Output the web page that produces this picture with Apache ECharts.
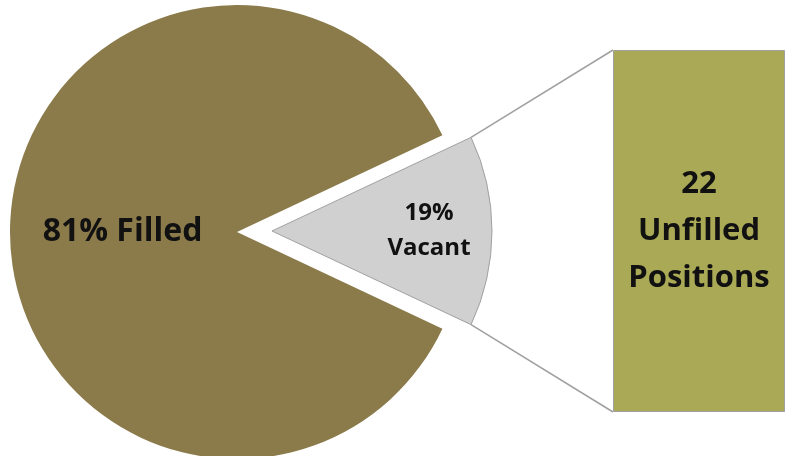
<!DOCTYPE html>
<html><head><meta charset="utf-8">
<script src="https://cdn.jsdelivr.net/npm/echarts@6/dist/echarts.min.js"></script>
<style>html,body{margin:0;padding:0;background:#fff}#c{width:786px;height:456px}</style>
</head><body><div id="c"></div>
<script>
// Data
const sliceNames = ['Vacant', 'Filled'];
const sliceShares = [14, 86];            // angular shares as drawn in the reference
const sliceLabels = ['19%\nVacant', '81% Filled'];
const barCategories = ['Unfilled Positions'];
const barValues = [22];
const barLabel = '22\nUnfilled\nPositions';

const FONT = '"Open Sans", "Noto Sans", sans-serif';
const cx1 = 237, cy1 = 232, r1 = 227;     // main pie
const cx2 = 272, cy2 = 231, r2 = 220;     // exploded slice
const total = sliceShares.reduce((a, b) => a + b, 0);
const half = sliceShares[0] / total * 360 / 2;   // half-angle of the vacant slice
const barLeft = 613, barTop = 50, barW = 172, barH = 362;

const rad = half * Math.PI / 180;
const pTop = [cx2 + r2 * Math.cos(rad), cy2 - r2 * Math.sin(rad)];
const pBot = [cx2 + r2 * Math.cos(rad), cy2 + r2 * Math.sin(rad)];

const chart = echarts.init(document.getElementById('c'), null, {renderer: 'canvas'});
chart.setOption({
  animation: false,
  grid: {left: barLeft, top: barTop, width: barW, height: barH, containLabel: false},
  xAxis: {type: 'category', data: barCategories, show: false},
  yAxis: {type: 'value', min: 0, max: barValues[0], show: false},
  series: [
    {
      type: 'pie', center: [cx1, cy1], radius: [0, r1], startAngle: half, clockwise: true,
      silent: true, labelLine: {show: false},
      data: sliceNames.map((n, i) => ({
        name: n, value: sliceShares[i],
        itemStyle: {color: i === 1 ? '#8B7A4A' : 'rgba(0,0,0,0)'},
        label: i === 1 ? {show: true, position: 'inside', rotate: 0, formatter: sliceLabels[i],
          fontFamily: FONT, fontWeight: 'bold', fontSize: 32, color: '#111', padding: [0, 0, 0, 4]} : {show: false}
      }))
    },
    {
      type: 'pie', center: [cx2, cy2], radius: [0, r2], startAngle: half, clockwise: true,
      silent: true, labelLine: {show: false},
      data: sliceNames.map((n, i) => ({
        name: n, value: sliceShares[i],
        itemStyle: i === 0 ? {color: '#D0D0D0', borderColor: '#A0A0A0', borderWidth: 1}
                           : {color: 'rgba(0,0,0,0)'},
        label: i === 0 ? {show: true, position: 'inside', rotate: 0, formatter: sliceLabels[i],
          fontFamily: FONT, fontWeight: 'bold', fontSize: 24, lineHeight: 35, color: '#111',
          align: 'center', padding: [0, 0, 0, 88]} : {show: false}
      }))
    },
    {
      type: 'bar', data: barValues, barWidth: '100%', silent: true,
      itemStyle: {color: '#AAAA56', borderColor: '#A0A0A0', borderWidth: 1},
      label: {show: true, position: 'inside', formatter: barLabel, fontFamily: FONT,
        fontWeight: 'bold', fontSize: 31, lineHeight: 47, color: '#111', padding: [14, 0, 0, 0]}
    }
  ],
  graphic: [
    {type: 'line', shape: {x1: pTop[0], y1: pTop[1], x2: barLeft, y2: barTop},
      style: {stroke: '#A0A0A0', lineWidth: 1.5}, silent: true},
    {type: 'line', shape: {x1: pBot[0], y1: pBot[1], x2: barLeft, y2: barTop + barH},
      style: {stroke: '#A0A0A0', lineWidth: 1.5}, silent: true}
  ]
});
</script></body></html>
